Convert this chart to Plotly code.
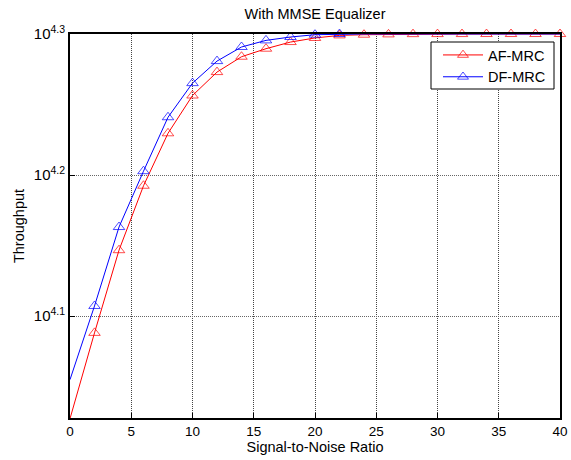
import plotly.graph_objects as go

snr = [0, 2, 4, 6, 8, 10, 12, 14, 16, 18, 20, 22, 24, 26, 28, 30, 32, 34, 36, 38, 40]
af_mrc = [10650, 12250, 14020, 15575, 16967, 18046, 18750, 19226, 19480, 19692, 19824,
          19907, 19930, 19940, 19948, 19950, 19951, 19952, 19952, 19952, 19952]
df_mrc = [11350, 12800, 14560, 15950, 17418, 18415, 19090, 19534, 19746, 19855, 19930,
          19952, 19953, 19953, 19953, 19953, 19953, 19953, 19953, 19953, 19953]

x_ticks = [0, 5, 10, 15, 20, 25, 30, 35, 40]
y_tickvals = [10 ** 4.1, 10 ** 4.2, 10 ** 4.3]
y_ticktext = ["10<sup>4.1</sup>", "10<sup>4.2</sup>", "10<sup>4.3</sup>"]

FONT = "Liberation Sans, Arial, sans-serif"

# plot area in pixels (for placing the legend box)
PL, PR, PT, PB = 70, 560, 34, 418
PW, PH = PR - PL, PB - PT

# the first sample (SNR = 0) is drawn without a marker in the reference
msizes = [0] + [10] * (len(snr) - 1)

fig = go.Figure()
fig.add_trace(go.Scatter(
    x=snr, y=af_mrc, name="AF-MRC", mode="lines+markers",
    line=dict(color="#ff0000", width=1),
    marker=dict(symbol="triangle-up-open", size=msizes, color="#ff0000", line=dict(width=1, color="#ff0000")),
    cliponaxis=False,
))
fig.add_trace(go.Scatter(
    x=snr, y=df_mrc, name="DF-MRC", mode="lines+markers",
    line=dict(color="#0000ff", width=1),
    marker=dict(symbol="triangle-up-open", size=msizes, color="#0000ff", line=dict(width=1, color="#0000ff")),
    cliponaxis=False,
))

# legend frame (white box with black border), legend entries drawn on top of it
fig.add_shape(type="rect", xref="paper", yref="paper", layer="above",
              x0=(431 - PL) / PW, x1=(554 - PL) / PW,
              y0=(PB - 89) / PH, y1=(PB - 42) / PH,
              fillcolor="white", line=dict(color="black", width=1))

fig.update_layout(
    width=571, height=460,
    margin=dict(l=PL, r=571 - PR, t=PT, b=460 - PB, autoexpand=False),
    paper_bgcolor="white", plot_bgcolor="white",
    font=dict(family=FONT, size=13.5, color="black"),
    title=dict(text="With MMSE Equalizer", x=(PL + PW / 2) / 571, xanchor="center", y=1 - 14 / 460, yanchor="middle",
               font=dict(size=14.5, color="black")),
    showlegend=True,
    legend=dict(x=(551 - PL) / PW, y=(PB - 39) / PH, xanchor="right", yanchor="top",
                bgcolor="rgba(0,0,0,0)", borderwidth=0,
                font=dict(size=14.5, color="black"), tracegroupgap=0, itemwidth=40),
)
fig.update_xaxes(
    range=[0, 40], tickvals=x_ticks, ticks="inside", ticklen=5, tickcolor="black",
    showline=True, linecolor="black", linewidth=1.7, mirror=True, automargin=False,
    showgrid=True, gridcolor="#444444", griddash="1px,1px", gridwidth=1, zeroline=False,
    title=dict(text="Signal-to-Noise Ratio", standoff=4, font=dict(size=14.5)),
    tickfont=dict(size=13.5),
)
fig.update_yaxes(
    type="log", range=[4.0278, 4.3], tickvals=y_tickvals, ticktext=y_ticktext,
    ticks="inside", ticklen=5, tickcolor="black",
    showline=True, linecolor="black", linewidth=1.7, mirror=True, automargin=False,
    showgrid=True, gridcolor="#666666", griddash="1px,1px", gridwidth=1, zeroline=False,
    title=dict(text="Throughput", standoff=6, font=dict(size=14.5)),
    tickfont=dict(size=15),
)

fig.write_html("out.html")
